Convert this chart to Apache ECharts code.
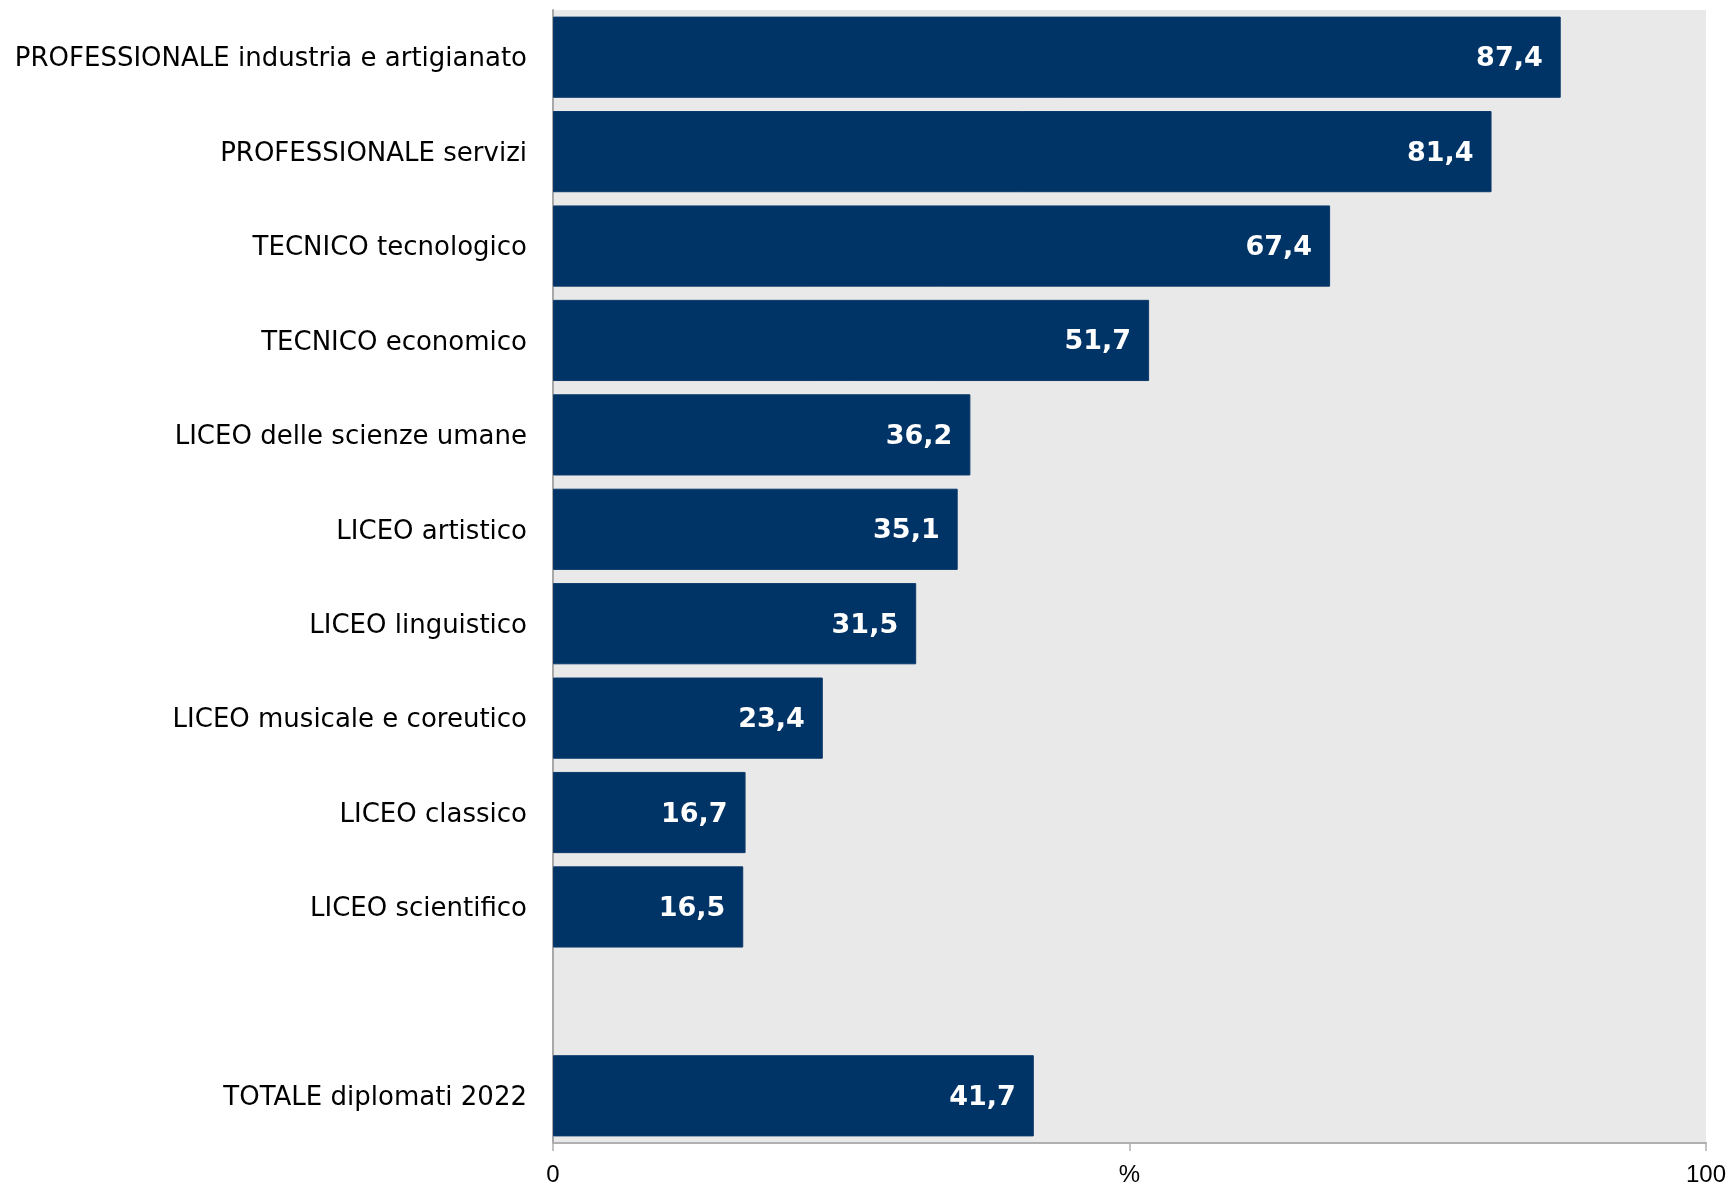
<!DOCTYPE html>
<html><head><meta charset="utf-8">
<script src="https://cdn.jsdelivr.net/npm/echarts@6/dist/echarts.min.js"></script>
<style>html,body{margin:0;padding:0;background:#fff}#c{width:1731px;height:1192px}</style>
</head><body><div id="c"></div>
<script>
var categories = ['PROFESSIONALE industria e artigianato','PROFESSIONALE servizi','TECNICO tecnologico','TECNICO economico','LICEO delle scienze umane','LICEO artistico','LICEO linguistico','LICEO musicale e coreutico','LICEO classico','LICEO scientifico','','TOTALE diplomati 2022'];
var values = [87.4,81.4,67.4,51.7,36.2,35.1,31.5,23.4,16.7,16.5,null,41.7];
var xTicks = {0:'0',50:'%',100:'100'};

var chart = echarts.init(document.getElementById('c'));
chart.setOption({
  animation:false,
  grid:{left:553,right:25,top:10,bottom:49,show:true,backgroundColor:'#E9E9E9',borderWidth:0},
  xAxis:{type:'value',min:0,max:100,interval:50,
    axisLine:{show:true,lineStyle:{color:'#B0B0B0',width:2}},
    axisTick:{show:true,length:8,lineStyle:{color:'#B0B0B0',width:1.5}},
    splitLine:{show:false},
    axisLabel:{margin:20,fontFamily:'Liberation Sans',fontSize:24,color:'#000',
      formatter:function(v){return xTicks[v]!==undefined?xTicks[v]:'';}}},
  yAxis:{type:'category',inverse:true,data:categories,
    axisLine:{show:true,lineStyle:{color:'#A8A8A8',width:2}},
    axisTick:{show:false},
    axisLabel:{margin:26,fontFamily:'DejaVu Sans',fontSize:26,color:'#000',
      formatter:function(v){return v?'{a|'+v+'}':'';},
      rich:{a:{fontFamily:'DejaVu Sans',fontSize:26,color:'#000',padding:[5,0,0,0]}}}},
  series:[{type:'bar',data:values,barCategoryGap:'14%',
    itemStyle:{color:'#003366',borderColor:'#0c3a6a',borderWidth:1},
    label:{show:true,position:'insideRight',distance:18,color:'#fff',fontWeight:'bold',
      fontFamily:'DejaVu Sans',fontSize:27,offset:[0,2],
      formatter:function(p){return p.value==null?'':p.value.toFixed(1).replace('.',',');}}}]
});
</script></body></html>
